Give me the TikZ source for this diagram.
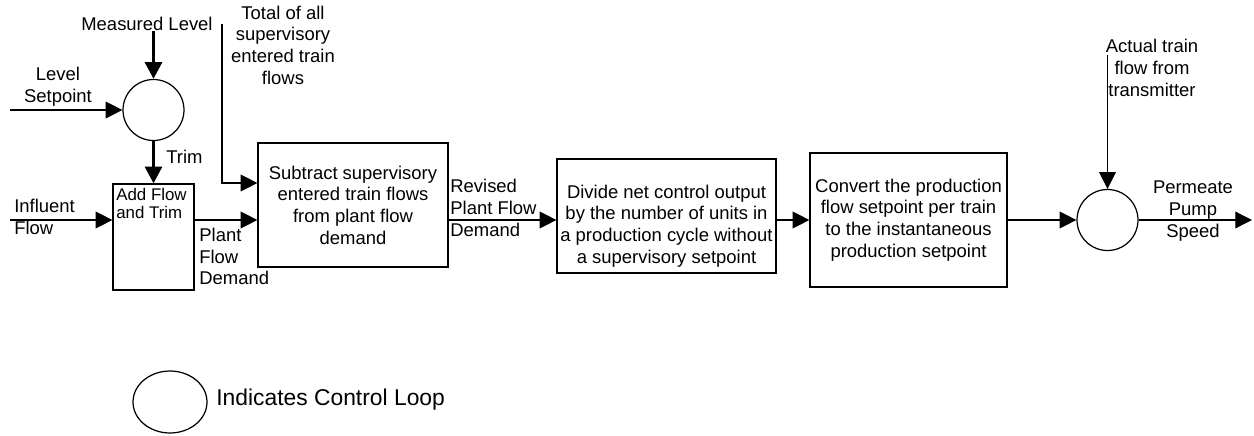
\documentclass[tikz,border=0pt]{standalone}
\usepackage{fontspec}
\setmainfont{Liberation Sans}
\usetikzlibrary{positioning, arrows.meta, shapes.geometric}

\begin{document}
\begin{tikzpicture}[x=0.02cm, y=-0.02cm,
        every node/.style={font=\fontsize{10.5}{12.3}\selectfont, inner sep=0pt},
        block/.style={draw, line width=0.7pt, align=center},
        ctrl/.style={draw, circle, line width=0.7pt, minimum size=1.22cm},
        lbl/.style={align=center},
        flow/.style={line width=0.7pt, -{Triangle[length=9.5pt, width=9.5pt]}},
        heavy/.style={line width=2pt, -{Triangle[length=9.5pt, width=9.5pt]}}]
    \useasboundingbox (0,0) rectangle (1254,436);

    % level loop
    \node[ctrl] (lvl) at (153.5,110) {};
    \node (meas) at (147,24) {Measured Level};
    \node[lbl] (lsp) at (58,87) {Level\\Setpoint};
    \coordinate (lspin) at (10,110);
    \node[anchor=west] (trim) at (166,157) {Trim};

    % blocks
    \node[block, minimum width=1.62cm, minimum height=2.12cm] (add) at (153.5,237) {};
    \node[anchor=north west, align=left, font=\fontsize{9.6}{10.4}\selectfont] (addtxt) at (116,188) {Add Flow\\and Trim};
    \node[block, minimum width=3.8cm, minimum height=2.48cm] (sub) at (353,205)
        {Subtract supervisory\\entered train flows\\from plant flow\\demand};
    \node[block, minimum width=4.38cm, minimum height=2.28cm] (div) at (666.5,216)
        {\rule{0pt}{19pt}Divide net control output\\by the number of units in\\a production cycle without\\a supervisory setpoint};
    \node[block, minimum width=3.94cm, minimum height=2.68cm] (conv) at (908.5,220)
        {Convert the production\\flow setpoint per train\\to the instantaneous\\production setpoint};
    \node[ctrl] (pv) at (1107.5,220) {};

    % labels
    \node[anchor=west, align=left] (infl) at (14,217) {Influent\\Flow};
    \node[anchor=north west, align=left] (pfd) at (199,228) {Plant\\Flow\\Demand};
    \node[anchor=west, align=left] (rpfd) at (450,208) {Revised\\Plant Flow\\Demand};
    \node[lbl] (tot) at (283,45) {Total of all\\supervisory\\entered train\\flows};
    \node[lbl] (act) at (1152,68) {Actual train\\flow from\\transmitter};
    \node[lbl] (pps) at (1193,211) {Permeate\\Pump\\Speed};

    \coordinate (inflin) at (10,220);
    \coordinate (totin) at (222,24);
    \coordinate (totbend) at (222,183);
    \coordinate (actin) at (1107.5,55);
    \coordinate (out) at (1252,220);

    % connectors
    \draw[heavy] (meas.south -| lvl) -- (lvl);
    \draw[flow] (lspin) -- (lvl);
    \draw[heavy] (lvl) -- (add);
    \draw[flow] (inflin) -- (inflin -| add.west);
    \draw[flow] (add.east |- inflin) -- (sub.west |- inflin);
    \draw[flow] (totin) -- (totbend) -- (totbend -| sub.west);
    \draw[flow] (sub.east |- inflin) -- (div.west |- inflin);
    \draw[flow] (div.east |- inflin) -- (conv.west |- inflin);
    \draw[flow] (conv.east |- inflin) -- (pv);
    \draw[flow] (actin) -- (pv);
    \draw[flow] (pv) -- (out);

    % legend
    \node[draw, ellipse, line width=0.7pt, minimum width=1.48cm, minimum height=1.24cm] (legend) at (170,402) {};
    \node[anchor=west, font=\fontsize{13}{15}\selectfont] (legtxt) at (216,400) {Indicates Control Loop};
\end{tikzpicture}
\end{document}
